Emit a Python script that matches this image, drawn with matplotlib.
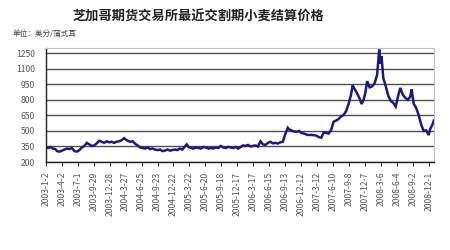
import numpy as np
import matplotlib
matplotlib.use('Agg')
import matplotlib.pyplot as plt

plt.rcParams['font.family'] = ['Noto Sans CJK SC', 'DejaVu Sans']

# settlement price, US cents per bushel
dates = [
    '2003-01-02', '2003-01-15', '2003-01-28', '2003-02-10', '2003-02-24', '2003-03-06', '2003-03-20',
    '2003-04-03', '2003-04-17', '2003-05-01', '2003-05-15', '2003-05-29', '2003-06-12', '2003-06-26',
    '2003-07-10', '2003-07-24', '2003-08-07', '2003-08-21', '2003-09-04', '2003-09-18', '2003-10-02',
    '2003-10-16', '2003-10-30', '2003-11-13', '2003-11-27', '2003-12-11', '2003-12-25',
    '2004-01-08', '2004-01-22', '2004-02-05', '2004-02-19', '2004-03-04', '2004-03-18', '2004-03-25',
    '2004-04-08', '2004-04-22', '2004-05-06', '2004-05-20', '2004-06-03', '2004-06-17', '2004-07-01',
    '2004-07-15', '2004-07-29', '2004-08-12', '2004-08-26', '2004-09-09', '2004-09-23', '2004-10-07',
    '2004-10-21', '2004-11-04', '2004-11-18', '2004-12-02', '2004-12-16', '2004-12-30',
    '2005-01-13', '2005-01-27', '2005-02-10', '2005-02-24', '2005-03-07', '2005-03-17', '2005-03-31',
    '2005-04-14', '2005-04-28', '2005-05-12', '2005-05-26', '2005-06-09', '2005-06-23', '2005-07-07',
    '2005-07-21', '2005-08-04', '2005-08-18', '2005-09-01', '2005-09-15', '2005-09-29', '2005-10-13',
    '2005-10-27', '2005-11-10', '2005-11-24', '2005-12-08', '2005-12-22',
    '2006-01-05', '2006-01-19', '2006-02-02', '2006-02-16', '2006-03-02', '2006-03-16', '2006-03-30',
    '2006-04-13', '2006-04-27', '2006-05-11', '2006-05-25', '2006-06-08', '2006-06-22', '2006-07-06',
    '2006-07-20', '2006-08-03', '2006-08-17', '2006-08-31', '2006-09-14', '2006-09-28', '2006-10-05',
    '2006-10-19', '2006-11-02', '2006-11-16', '2006-11-30', '2006-12-14', '2006-12-28',
    '2007-01-11', '2007-01-25', '2007-02-08', '2007-02-22', '2007-03-08', '2007-03-22', '2007-04-05',
    '2007-04-19', '2007-05-03', '2007-05-17', '2007-05-31', '2007-06-14', '2007-06-28', '2007-07-12',
    '2007-07-26', '2007-08-09', '2007-08-23', '2007-09-06', '2007-09-20', '2007-09-29', '2007-10-08',
    '2007-10-22', '2007-11-05', '2007-11-19', '2007-11-30', '2007-12-10', '2007-12-20',
    '2008-01-03', '2008-01-17', '2008-01-31', '2008-02-14', '2008-02-26', '2008-03-03', '2008-03-10',
    '2008-03-20', '2008-04-03', '2008-04-17', '2008-05-01', '2008-05-15', '2008-05-29', '2008-06-12',
    '2008-06-24', '2008-07-08', '2008-07-22', '2008-08-05', '2008-08-19', '2008-08-27', '2008-09-08',
    '2008-09-22', '2008-10-06', '2008-10-20', '2008-11-03', '2008-11-17', '2008-12-01', '2008-12-10',
    '2008-12-22', '2008-12-30',
]
prices = [
    340, 335, 345, 330, 325, 305, 300,
    310, 320, 330, 325, 335, 305, 300,
    315, 340, 355, 385, 370, 355, 360,
    380, 405, 395, 385, 400, 390,
    395, 385, 395, 400, 410, 430, 420,
    405, 395, 400, 375, 360, 340, 335,
    330, 340, 325, 330, 320, 315, 320,
    305, 310, 320, 310, 315, 320,
    315, 330, 320, 350, 370, 345, 335,
    330, 340, 335, 330, 345, 340, 330,
    335, 330, 340, 335, 355, 340, 335,
    345, 340, 335, 345, 330,
    345, 360, 355, 365, 350, 355, 360,
    350, 400, 370, 365, 385, 395, 380,
    385, 378, 390, 395, 470, 530, 515,
    505, 495, 490, 500, 480, 475,
    465, 460, 462, 458, 455, 440, 435,
    485, 480, 475, 510, 590, 600, 615,
    640, 655, 690, 760, 850, 940, 910,
    870, 820, 760, 800, 870, 980,
    920, 930, 960, 1040, 1285, 1150, 1220,
    1010, 930, 840, 790, 770, 735, 840,
    915, 850, 820, 800, 830, 900, 760,
    720, 650, 560, 500, 505, 460, 520,
    560, 600,
]

start = np.datetime64('2003-01-02')
end = np.datetime64('2008-12-30')
days = (np.array(dates, dtype='datetime64[D]') - start).astype(int)
total = int((end - start).astype(int))

tick_days = np.arange(0, total + 1, 90)
tick_labels = []
for d in tick_days:
    y, m, dd = str(start + np.timedelta64(int(d), 'D')).split('-')
    tick_labels.append('%d-%d-%d' % (int(y), int(m), int(dd)))

fig = plt.figure(figsize=(4.5, 2.5), dpi=100)
ax = fig.add_axes([0.102, 0.352, 0.862, 0.456])

ax.plot(days, prices, color='#1a1a80', lw=1.8, solid_joinstyle='miter')

ax.set_xlim(0, total)
ax.set_ylim(200, 1300)
ax.set_yticks(np.arange(200, 1251, 150))
ax.yaxis.grid(True, color='#505050', lw=1.0)
ax.set_axisbelow(True)

ax.set_xticks(tick_days)
ax.set_xticklabels(tick_labels, rotation=90, fontsize=6.2, color='#555555', va='top')
ax.tick_params(axis='x', length=3, width=0.8, color='#333333', pad=4)
ax.tick_params(axis='y', length=0, labelsize=6.2, labelcolor='#555555', pad=8)

for side in ['top', 'right']:
    ax.spines[side].set_color('#c0c0c0')
    ax.spines[side].set_linewidth(0.8)
for side in ['left', 'bottom']:
    ax.spines[side].set_color('#222222')
    ax.spines[side].set_linewidth(1.0)

fig.text(0.44, 0.935, '芝加哥期货交易所最近交割期小麦结算价格', ha='center', va='center',
         fontsize=9.5, fontweight='bold', color='#222222')
fig.text(0.028, 0.865, '单位：美分/蒲式耳', ha='left', va='center', fontsize=5.5, color='#444444')

fig.savefig('out.png', dpi=100)
